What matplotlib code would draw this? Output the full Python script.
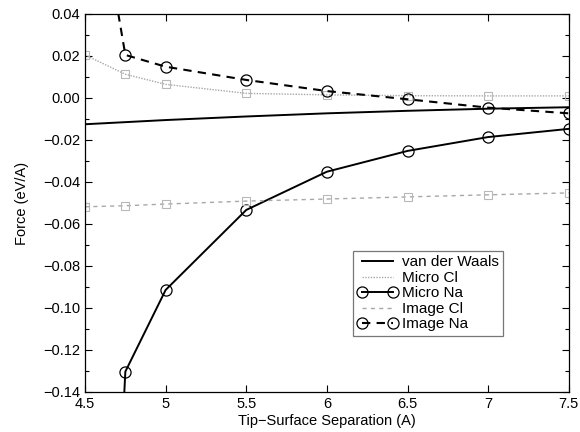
import matplotlib
matplotlib.use("Agg")
import matplotlib.pyplot as plt
from matplotlib.lines import Line2D
from matplotlib.ticker import MultipleLocator, FuncFormatter

plt.rcParams["font.family"] = ["Liberation Sans", "DejaVu Sans"]

# separations (A)
sep = [4.5, 4.75, 5.0, 5.5, 6.0, 6.5, 7.0, 7.5]
sep_vdw = [4.5, 5.0, 5.5, 6.0, 6.5, 7.0, 7.5]

# forces (eV/A)
vdw = [-0.0125, -0.0105, -0.0088, -0.0073, -0.0061, -0.0051, -0.0044]
micro_cl = [0.0205, 0.0113, 0.0065, 0.0022, 0.0015, 0.0011, 0.0010, 0.0010]
micro_na = [-0.52, -0.1303, -0.0914, -0.0533, -0.0351, -0.0252, -0.0186, -0.0147]
image_cl = [-0.0518, -0.0513, -0.0505, -0.0491, -0.0481, -0.0471, -0.0461, -0.0452]
image_na = [0.133, 0.0205, 0.0149, 0.0086, 0.0033, -0.0006, -0.0046, -0.0073]

labels = ["van der Waals", "Micro Cl", "Micro Na", "Image Cl", "Image Na"]

GREY = "#a8a8a8"

fig = plt.figure(figsize=(5.8, 4.32), dpi=100)
ax = fig.add_axes([0.1466, 0.0926, 0.834, 0.875])

ax.plot(sep_vdw, vdw, color="black", lw=1.4)
ax.plot(sep, micro_cl, color=GREY, lw=1.0, ls=(0, (1, 1)),
        marker="s", ms=6, mfc="none", mec="#b8b8b8", mew=0.8)
ax.plot(sep, micro_na, color="black", lw=1.4,
        marker="o", ms=8, mfc="none", mec="black", mew=0.9)
ax.plot(sep, image_cl, color=GREY, lw=1.0, ls=(0, (3, 3)),
        marker="s", ms=6, mfc="none", mec="#b8b8b8", mew=0.8)
ax.plot(sep, image_na, color="black", lw=1.5, ls=(0, (4, 3)),
        marker="o", ms=8, mfc="none", mec="black", mew=0.9)

ax.set_xlim(4.5, 7.5)
ax.set_ylim(-0.14, 0.04)
ax.xaxis.set_major_locator(MultipleLocator(0.5))
ax.xaxis.set_major_formatter(FuncFormatter(lambda v, p: f"{v:g}"))
ax.yaxis.set_major_locator(MultipleLocator(0.02))
ax.yaxis.set_minor_locator(MultipleLocator(0.01))
ax.yaxis.set_major_formatter(
    FuncFormatter(lambda v, p: f"{v:.2f}".replace("-", "\u2212") if abs(v) > 1e-9 else "0.00"))
ax.tick_params(which="both", direction="in", top=True, right=True, labelsize=10.5)
ax.tick_params(which="major", length=5, width=0.8)
ax.tick_params(which="minor", length=3, width=0.8)
for s in ax.spines.values():
    s.set_linewidth(0.9)

ax.set_xlabel("Tip\u2212Surface Separation (A)", fontsize=10.5, labelpad=2)
ax.set_ylabel("Force (eV/A)", fontsize=10.5, labelpad=10)

# legend proxies: Cl entries show the line only, Na entries show circles at both ends
handles = [
    Line2D([], [], color="black", lw=1.4),
    Line2D([], [], color=GREY, lw=1.0, ls=(0, (1, 1))),
    Line2D([], [], color="black", lw=1.4, marker="o", ms=8, mfc="none", mec="black", mew=0.9),
    Line2D([], [], color=GREY, lw=1.0, ls=(0, (3, 3))),
    Line2D([], [], color="black", lw=1.5, ls=(0, (4, 3)), marker="o", ms=8,
           mfc="none", mec="black", mew=0.9),
]
leg = ax.legend(handles, labels, loc="lower left", bbox_to_anchor=(0.554, 0.148),
                fontsize=11, numpoints=2, frameon=True, fancybox=False,
                edgecolor="#555555", handlelength=2.6, handletextpad=0.3,
                borderpad=0.3, labelspacing=0.1, borderaxespad=0)
leg.get_frame().set_linewidth(0.9)

fig.savefig("out.png", dpi=100)
